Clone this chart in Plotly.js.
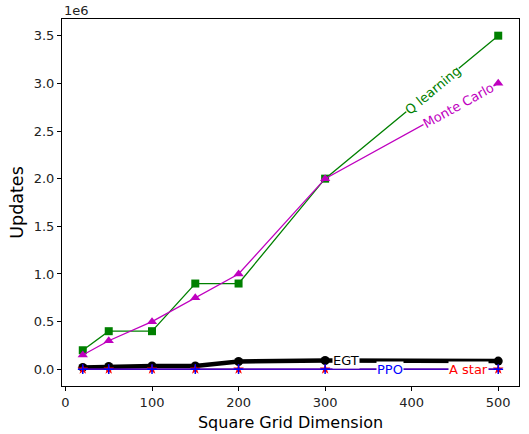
<!DOCTYPE html>
<html>
<head>
<meta charset="utf-8">
<script src="https://cdn.plot.ly/plotly-3.0.1.min.js"></script>
<style>html,body{margin:0;padding:0;background:#fff;}#chart{width:529px;height:434px;}</style>
</head>
<body>
<div id="chart"></div>
<script>
const gridDims = [20, 50, 100, 150, 200, 300, 500];
const qLearning = [200000, 400000, 400000, 900000, 900000, 2000000, 3500000];
const monteCarlo = [150000, 300000, 500000, 750000, 1000000, 2000000, 3000000];
const egt = [20000, 30000, 35000, 35000, 82000, 92000, 86000];
const ppo = [1000, 1000, 1000, 1000, 1000, 1000, 1000];
const aStar = [500, 500, 500, 500, 500, 500, 500];
const yTickVals = [0, 500000, 1000000, 1500000, 2000000, 2500000, 3000000, 3500000];
const yTickText = ['0.0', '0.5', '1.0', '1.5', '2.0', '2.5', '3.0', '3.5'];
const xTickVals = [0, 100, 200, 300, 400, 500];

const FONT = 'DejaVu Sans, sans-serif';
const traces = [
  {x: gridDims, y: qLearning, name: 'Q learning', mode: 'lines+markers',
   line: {color: '#008000', width: 1.3}, marker: {symbol: 'square', size: 8, color: '#008000'}},
  {x: gridDims, y: monteCarlo, name: 'Monte Carlo', mode: 'lines+markers',
   line: {color: '#bf00bf', width: 1.3}, marker: {symbol: 'triangle-up', size: 9, color: '#bf00bf'}},
  {x: gridDims, y: egt, name: 'EGT', mode: 'lines+markers',
   line: {color: '#000000', width: 4.5}, marker: {symbol: 'circle', size: 9, color: '#000000'}},
  {x: gridDims, y: aStar, name: 'A star', mode: 'lines+markers',
   line: {color: '#ff0000', width: 1.3}, marker: {symbol: 'star', size: 8, color: '#ff0000'}},
  {x: gridDims, y: ppo, name: 'PPO', mode: 'lines+markers',
   line: {color: '#0000ff', width: 1.3}, marker: {symbol: 'cross-thin-open', size: 7, color: '#0000ff', line: {width: 1.5, color: '#0000ff'}}}
];

function lbl(x, y, text, color, angle) {
  return {x: x, y: y, xref: 'x', yref: 'y', text: text, showarrow: false,
    font: {family: FONT, size: 13, color: color}, bgcolor: '#ffffff',
    textangle: angle, borderpad: 0};
}

const layout = {
  width: 529, height: 434,
  margin: {l: 62, r: 10, t: 19, b: 48},
  paper_bgcolor: '#fff', plot_bgcolor: '#fff',
  showlegend: false,
  font: {family: FONT, size: 12, color: '#000'},
  xaxis: {range: [-4, 524], tickvals: xTickVals, ticks: 'outside', ticklen: 4, tickcolor: '#000',
    showline: true, mirror: true, linecolor: '#000', linewidth: 1, showgrid: false, zeroline: false,
    tickfont: {family: FONT, size: 13, color: '#222'},
    title: {text: 'Square Grid Dimension', font: {family: FONT, size: 16, color: '#000'}, standoff: 8}},
  yaxis: {range: [-175000, 3675000], tickvals: yTickVals, ticktext: yTickText, ticks: 'outside', ticklen: 4, tickcolor: '#000',
    showline: true, mirror: true, linecolor: '#000', linewidth: 1, showgrid: false, zeroline: false,
    tickfont: {family: FONT, size: 13, color: '#222'},
    title: {text: 'Updates', font: {family: FONT, size: 17.5, color: '#000'}, standoff: 5}},
  annotations: [
    {x: 0, y: 1, xref: 'paper', yref: 'paper', xanchor: 'left', yanchor: 'bottom', text: '1e6',
     showarrow: false, font: {family: FONT, size: 13, color: '#222'}, yshift: -1},
    lbl(424, 2930000, 'Q learning', '#008000', -39.5),
    lbl(454, 2770000, 'Monte Carlo', '#bf00bf', -28.8),
    lbl(324, 90000, 'EGT', '#000000', 0),
    lbl(375, 1000, 'PPO', '#0000ff', 0),
    lbl(466, 500, 'A star', '#ff0000', 0)
  ]
};
Plotly.newPlot('chart', traces, layout, {displayModeBar: false, staticPlot: true});
</script>
</body>
</html>
